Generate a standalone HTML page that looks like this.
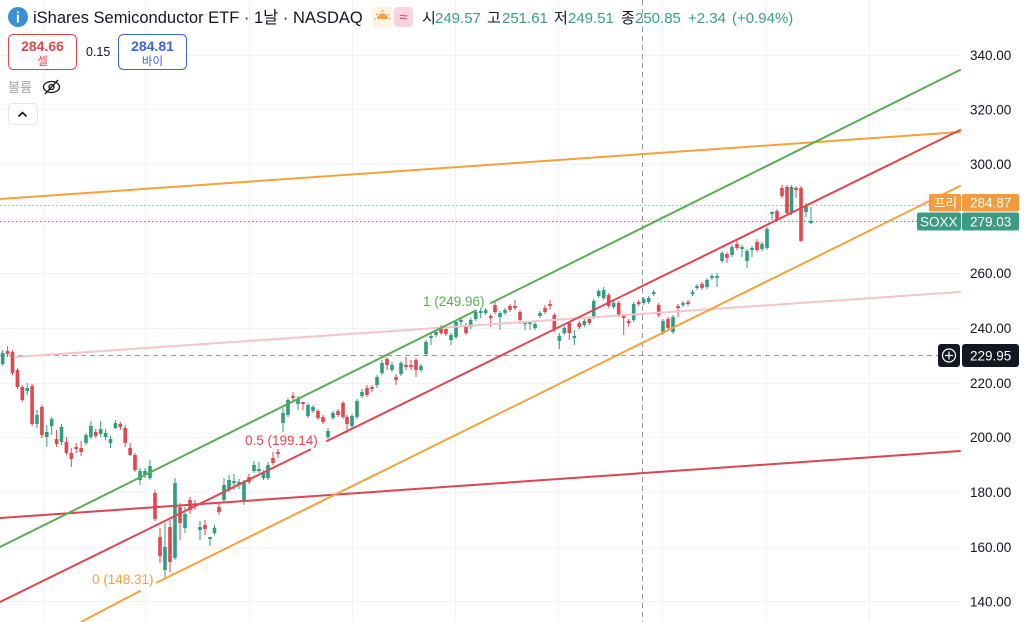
<!DOCTYPE html>
<html><head><meta charset="utf-8"><style>
html,body{margin:0;padding:0;background:#fff;}
svg{display:block;font-family:"Liberation Sans","Noto Sans CJK KR",sans-serif;}
</style></head><body>
<svg width="1024" height="622" viewBox="0 0 1024 622" xmlns="http://www.w3.org/2000/svg">
<rect width="1024" height="622" fill="#fff"/>
<!-- grid -->
<g stroke="#f0f2f5" stroke-width="1">
<path d="M0 55.5H960M0 109.5H960M0 164.5H960M0 219.5H960M0 273.5H960M0 328.5H960M0 383.5H960M0 437.5H960M0 492.5H960M0 547.5H960M0 601.5H960"/>
<path d="M43.5 0V622M145.5 0V622M249.5 0V622M352.5 0V622M455.5 0V622M558.5 0V622M662.5 0V622M766.5 0V622M869.5 0V622"/>
</g>
<!-- dotted price lines -->
<path d="M0 205.5H929" stroke="#f0a040" stroke-width="1" stroke-dasharray="1.5 2.5"/>
<path d="M0 221.5H917" stroke="#3d9b84" stroke-width="1" stroke-dasharray="1.5 2.5"/>
<!-- crosshair -->
<path d="M0 355.5H938" stroke="#9598a1" stroke-width="1" stroke-dasharray="5 4"/>
<path d="M642.5 0V622" stroke="#9598a1" stroke-width="1" stroke-dasharray="5 4"/>
<!-- candles green -->
<g fill="#2f9d80">
<path stroke="#2f9d80" stroke-width="1" fill="none" d="M2.7 350V366M27.2 383V395M37 410V428M46.8 425V447M51.7 417V435M61.5 424V445M86 433V445M90.9 421V439M100.7 421V437M105.6 429V440M110.5 436V448M115.4 420V429M140 468V485M145 468V478M150 460V480M165 523V578M175 478V560M185 507V533M200 521V540M210 537V546M214.5 525V535M224 478V502M229 475V492M234 474V490M239 479V489M244 480V505M254 461V473M259 462V473M263.5 470V480M268 462V480M283 408V432M288 398V417M298 396V410M308 403V418M313 405V413M328 428V439M333 411V420M352 414V428M357 399V419M362 389V398M377 375V388M382 360V375M392 362V372M401 361V376M421 364V372M426 340V356M431 333V345M436 330V337M451 333V345M456 320V339M461 317V325M470.7 318V329M475.7 310V321M480.7 308V318M485.7 308V315M500 311V330M505 308V315M525 322V330M530 322V330M535 322V330M540 311V318M559.3 333V349M564.3 326V335M574.3 330V345M584.3 319V327M593.7 299V319M598.7 289V298M603.7 287V300M613.7 301V309M633.7 302V322M643.7 297V305M648.7 296V304M653.7 290V296M663 319V335M673 315V334M683 301V307M692.5 290V296M697 284V290M707 278V289M712 274V280M717 273V287M722 251V263M732 245V257M742 245V257M747 249V268M752 246V257M762 242V251M767 227V250M772 211V220M791.5 185V215M806 203V217M811 207V224"/>
<path d="M0.9 353h3.6v11h-3.6zM25.4 388h3.6v3h-3.6zM35.2 415h3.6v9h-3.6zM45 432h3.6v5h-3.6zM49.9 419h3.6v7h-3.6zM59.7 427h3.6v15h-3.6zM84.2 435h3.6v8h-3.6zM89.1 426h3.6v11h-3.6zM98.9 429h3.6v5h-3.6zM103.8 433h3.6v4h-3.6zM108.7 439h3.6v4h-3.6zM113.6 423h3.6v5h-3.6zM138.2 471h3.6v9h-3.6zM143.2 471h3.6v4h-3.6zM148.2 466h3.6v12h-3.6zM163.2 547h3.6v23h-3.6zM173.2 483h3.6v75h-3.6zM183.2 514h3.6v14h-3.6zM198.2 527h3.6v3h-3.6zM208.2 537h3.6v2h-3.6zM212.7 528h3.6v5h-3.6zM222.2 485h3.6v15h-3.6zM227.2 480h3.6v9h-3.6zM232.2 481h3.6v2h-3.6zM237.2 482h3.6v2h-3.6zM242.2 483h3.6v17h-3.6zM252.2 465h3.6v6h-3.6zM257.2 469h3.6v2h-3.6zM261.7 473h3.6v5h-3.6zM266.2 465h3.6v13h-3.6zM281.2 413h3.6v10h-3.6zM286.2 400h3.6v15h-3.6zM296.2 399h3.6v5h-3.6zM306.2 405h3.6v11h-3.6zM311.2 407h3.6v4h-3.6zM326.2 431h3.6v6h-3.6zM331.2 413h3.6v5h-3.6zM350.2 416h3.6v10h-3.6zM355.2 401h3.6v16h-3.6zM360.2 392h3.6v4h-3.6zM375.2 377h3.6v8h-3.6zM380.2 363h3.6v10h-3.6zM390.2 365h3.6v5h-3.6zM399.2 363h3.6v11h-3.6zM419.2 366h3.6v4h-3.6zM424.2 342h3.6v12h-3.6zM429.2 336h3.6v2h-3.6zM434.2 332h3.6v3h-3.6zM449.2 335h3.6v5h-3.6zM454.2 322h3.6v15h-3.6zM459.2 320h3.6v2h-3.6zM468.9 320h3.6v7h-3.6zM473.9 312h3.6v7h-3.6zM478.9 311h3.6v2h-3.6zM483.9 310h3.6v3h-3.6zM498.2 313h3.6v4h-3.6zM503.2 310h3.6v3h-3.6zM523.2 322h3.6v2h-3.6zM528.2 322h3.6v2h-3.6zM533.2 324h3.6v4h-3.6zM538.2 313h3.6v3h-3.6zM557.5 336h3.6v5h-3.6zM562.5 328h3.6v5h-3.6zM572.5 336h3.6v2h-3.6zM582.5 321h3.6v4h-3.6zM591.9 301h3.6v16h-3.6zM596.9 291h3.6v5h-3.6zM601.9 290h3.6v8h-3.6zM611.9 303h3.6v4h-3.6zM631.9 304h3.6v16h-3.6zM641.9 299h3.6v4h-3.6zM646.9 298h3.6v4h-3.6zM651.9 292h3.6v2h-3.6zM661.2 321h3.6v12h-3.6zM671.2 317h3.6v15h-3.6zM681.2 303h3.6v2h-3.6zM690.7 292h3.6v2h-3.6zM695.2 286h3.6v2h-3.6zM705.2 280h3.6v7h-3.6zM710.2 276h3.6v2h-3.6zM715.2 276h3.6v2h-3.6zM720.2 253h3.6v8h-3.6zM730.2 247h3.6v8h-3.6zM740.2 247h3.6v2h-3.6zM745.2 251h3.6v10h-3.6zM750.2 248h3.6v2h-3.6zM760.2 244h3.6v5h-3.6zM765.2 229h3.6v19h-3.6zM770.2 212h3.6v2h-3.6zM789.7 187h3.6v26h-3.6zM804.2 206h3.6v6h-3.6zM809.2 221h3.6v2h-3.6z"/>
</g>
<!-- candles red -->
<g fill="#e0474f">
<path stroke="#e0474f" stroke-width="1" fill="none" d="M7.6 346V357M12.5 350V375M17.4 368V389M22.3 385V402M32.1 384V426M41.9 405V438M56.6 430V447M66.4 437V455M71.3 448V467M76.2 443V453M81.1 441V456M95.8 429V438M120.3 422V430M125.2 425V447M130.1 443V456M135 453V472M155 490V521M160 528V563M170 520V572M180 503V540M190 497V514M195 500V510M205 520V535M219 502V515M249 474V484M273 452V465M278 449V458M293 392V402M303 402V410M318 409V420M323 415V424M338 409V417M343 401V419M347 415V433M367 385V397M372 385V392M387 357V370M396 374V385M406 357V370M411 360V370M416 358V377M441 325V335M446 327V336M466 323V335M490.7 314V327M495 302V314M510 304V312M515 300V310M520 310V324M545 305V314M550 300V310M554.3 313V332M569.3 321V340M579.3 321V329M589.3 317V325M608.7 293V308M618.7 301V317M623.7 314V335M628.7 319V327M638.7 300V306M658.7 303V317M668 317V330M678 304V317M688 300V306M702 282V290M727 252V263M737 240V250M757 239V252M777 209V222M782 185V198M787 185V215M796 186V198M801 186V242"/>
<path d="M5.8 351h3.6v3h-3.6zM10.7 352h3.6v21h-3.6zM15.6 370h3.6v17h-3.6zM20.5 387h3.6v13h-3.6zM30.3 386h3.6v38h-3.6zM40.1 407h3.6v28h-3.6zM54.8 439h3.6v5h-3.6zM64.6 442h3.6v11h-3.6zM69.5 453h3.6v6h-3.6zM74.4 447h3.6v2h-3.6zM79.3 448h3.6v4h-3.6zM94 432h3.6v4h-3.6zM118.5 424h3.6v3h-3.6zM123.4 428h3.6v15h-3.6zM128.3 448h3.6v7h-3.6zM133.2 455h3.6v15h-3.6zM153.2 493h3.6v26h-3.6zM158.2 537h3.6v19h-3.6zM168.2 527h3.6v35h-3.6zM178.2 507h3.6v16h-3.6zM188.2 500h3.6v10h-3.6zM193.2 504h3.6v2h-3.6zM203.2 525h3.6v4h-3.6zM217.2 507h3.6v5h-3.6zM247.2 477h3.6v5h-3.6zM271.2 458h3.6v5h-3.6zM276.2 452h3.6v2h-3.6zM291.2 396h3.6v2h-3.6zM301.2 402h3.6v2h-3.6zM316.2 411h3.6v7h-3.6zM321.2 417h3.6v5h-3.6zM336.2 411h3.6v4h-3.6zM341.2 403h3.6v14h-3.6zM345.2 417h3.6v7h-3.6zM365.2 388h3.6v7h-3.6zM370.2 387h3.6v2h-3.6zM385.2 359h3.6v6h-3.6zM394.2 377h3.6v3h-3.6zM404.2 365h3.6v2h-3.6zM409.2 365h3.6v2h-3.6zM414.2 360h3.6v10h-3.6zM439.2 328h3.6v5h-3.6zM444.2 329h3.6v5h-3.6zM464.2 325h3.6v8h-3.6zM488.9 316h3.6v2h-3.6zM493.2 305h3.6v7h-3.6zM508.2 306h3.6v4h-3.6zM513.2 306h3.6v2h-3.6zM518.2 312h3.6v8h-3.6zM543.2 308h3.6v4h-3.6zM548.2 304h3.6v2h-3.6zM552.5 315h3.6v15h-3.6zM567.5 323h3.6v10h-3.6zM577.5 323h3.6v4h-3.6zM587.5 319h3.6v4h-3.6zM606.9 295h3.6v11h-3.6zM616.9 303h3.6v12h-3.6zM621.9 316h3.6v2h-3.6zM626.9 321h3.6v2h-3.6zM636.9 302h3.6v2h-3.6zM656.9 305h3.6v10h-3.6zM666.2 319h3.6v9h-3.6zM676.2 306h3.6v2h-3.6zM686.2 302h3.6v2h-3.6zM700.2 284h3.6v4h-3.6zM725.2 254h3.6v4h-3.6zM735.2 244h3.6v4h-3.6zM755.2 242h3.6v8h-3.6zM775.2 211h3.6v9h-3.6zM780.2 188h3.6v8h-3.6zM785.2 187h3.6v26h-3.6zM794.2 188h3.6v2h-3.6zM799.2 188h3.6v53h-3.6z"/>
</g>
<!-- drawings -->
<g fill="none" stroke-width="2" stroke-linecap="round">
<path d="M15 357L960 292" stroke="#f5c4c8"/>
<path d="M0 199L960 132" stroke="#f5a23a"/>
<path d="M0 518L960 451" stroke="#dc4450"/>
<path d="M0 547L476 310.5M491 303L960 70" stroke="#5aac55"/>
<path d="M0 602L310 449.6M327 441L960 130" stroke="#e0464f"/>
<path d="M60 633L140 591M157 582.5L960 186" stroke="#f5a23a"/>
</g>
<g font-size="13.5">
<text x="423" y="306" fill="#5aac55">1 (249.96)</text>
<text x="245" y="445" fill="#e0464f">0.5 (199.14)</text>
<text x="92" y="584" fill="#f0a040">0 (148.31)</text>
</g>
<!-- right axis labels -->
<g font-size="13.5" fill="#131722">
<text x="970" y="60">340.00</text>
<text x="970" y="114.5">320.00</text>
<text x="970" y="169">300.00</text>
<text x="970" y="278">260.00</text>
<text x="970" y="333">240.00</text>
<text x="970" y="388">220.00</text>
<text x="970" y="442">200.00</text>
<text x="970" y="497">180.00</text>
<text x="970" y="552">160.00</text>
<text x="970" y="606.5">140.00</text>
</g>
<!-- price tags -->
<rect x="929" y="194" width="32" height="17.5" rx="2" fill="#f29b3d"/>
<rect x="962" y="194" width="57" height="17.5" rx="2" fill="#f29b3d"/>
<rect x="917" y="212.5" width="44" height="18" rx="2" fill="#3d9b84"/>
<rect x="962" y="212.5" width="57" height="18" rx="2" fill="#3d9b84"/>
<rect x="938" y="344" width="22" height="23" rx="3" fill="#131722"/>
<rect x="962" y="344" width="57" height="23" rx="3" fill="#131722"/>
<g font-size="13.5" fill="#fff">
<text x="934" y="207.5" font-size="12.5">프리</text>
<text x="970" y="207.5">284.87</text>
<text x="920" y="226.5">SOXX</text>
<text x="970" y="226.5">279.03</text>
<text x="970" y="360.5">229.95</text>
</g>
<circle cx="949" cy="355.5" r="6.5" fill="none" stroke="#fff" stroke-width="1.2"/>
<path d="M949 351.5V359.5M945 355.5H953" stroke="#fff" stroke-width="1.2"/>
<!-- header -->
<circle cx="18" cy="17" r="10" fill="#3a8fd6"/>
<text x="18" y="22.5" text-anchor="middle" font-size="15" font-weight="bold" fill="#fff">i</text>
<text x="33" y="23" font-size="16.5" fill="#131722">iShares Semiconductor ETF · 1날 · NASDAQ</text>
<rect x="372" y="7" width="21" height="20" rx="4" fill="#fff3e4"/>
<path d="M377 19a5.5 5.5 0 0 1 11 0z" fill="#f5a23a"/>
<path d="M382.5 10V12M376 14l1.5 1M389 14l-1.5 1M374.5 19H376M389 19h1.5" stroke="#f5a23a" stroke-width="1.2"/>
<rect x="394" y="7" width="19" height="20" rx="4" fill="#f8d3e2"/>
<text x="403.5" y="22" text-anchor="middle" font-size="15" fill="#d6437a">≈</text>
<g font-size="15">
<text x="422" y="23" fill="#131722">시</text>
<text x="435" y="23" fill="#3a9e84">249.57</text>
<text x="487" y="23" fill="#131722">고</text>
<text x="502" y="23" fill="#3a9e84">251.61</text>
<text x="554" y="23" fill="#131722">저</text>
<text x="568" y="23" fill="#3a9e84">249.51</text>
<text x="621" y="23" fill="#131722">종</text>
<text x="635" y="23" fill="#3a9e84">250.85</text>
<text x="688" y="23" fill="#3a9e84">+2.34</text>
<text x="732" y="23" fill="#3a9e84">(+0.94%)</text>
</g>
<rect x="8.5" y="34.5" width="68" height="35" rx="5" fill="#fff" stroke="#e0464f"/>
<text x="42.5" y="51" text-anchor="middle" font-size="14" font-weight="bold" fill="#e0464f">284.66</text>
<text x="42.5" y="65" text-anchor="middle" font-size="11.5" fill="#e0464f">셀</text>
<text x="86" y="56" font-size="12.5" fill="#131722">0.15</text>
<rect x="118.5" y="34.5" width="68" height="35" rx="5" fill="#fff" stroke="#3d63dd"/>
<text x="152.5" y="51" text-anchor="middle" font-size="14" font-weight="bold" fill="#3d63dd">284.81</text>
<text x="152.5" y="65" text-anchor="middle" font-size="11.5" fill="#3d63dd">바이</text>
<text x="8" y="92" font-size="13" fill="#a3a6ad">볼륨</text>
<ellipse cx="51.5" cy="87" rx="8" ry="5.5" fill="none" stroke="#131722" stroke-width="1.3"/>
<circle cx="51.5" cy="87" r="2.5" fill="none" stroke="#131722" stroke-width="1.3"/>
<path d="M45 94L58 80" stroke="#131722" stroke-width="1.3"/>
<rect x="8.5" y="103.5" width="29" height="21" rx="4" fill="#fff" stroke="#e0e3eb"/>
<path d="M18.5 116.5L22.5 112.5L26.5 116.5" fill="none" stroke="#131722" stroke-width="1.6"/>
</svg>
</body></html>
